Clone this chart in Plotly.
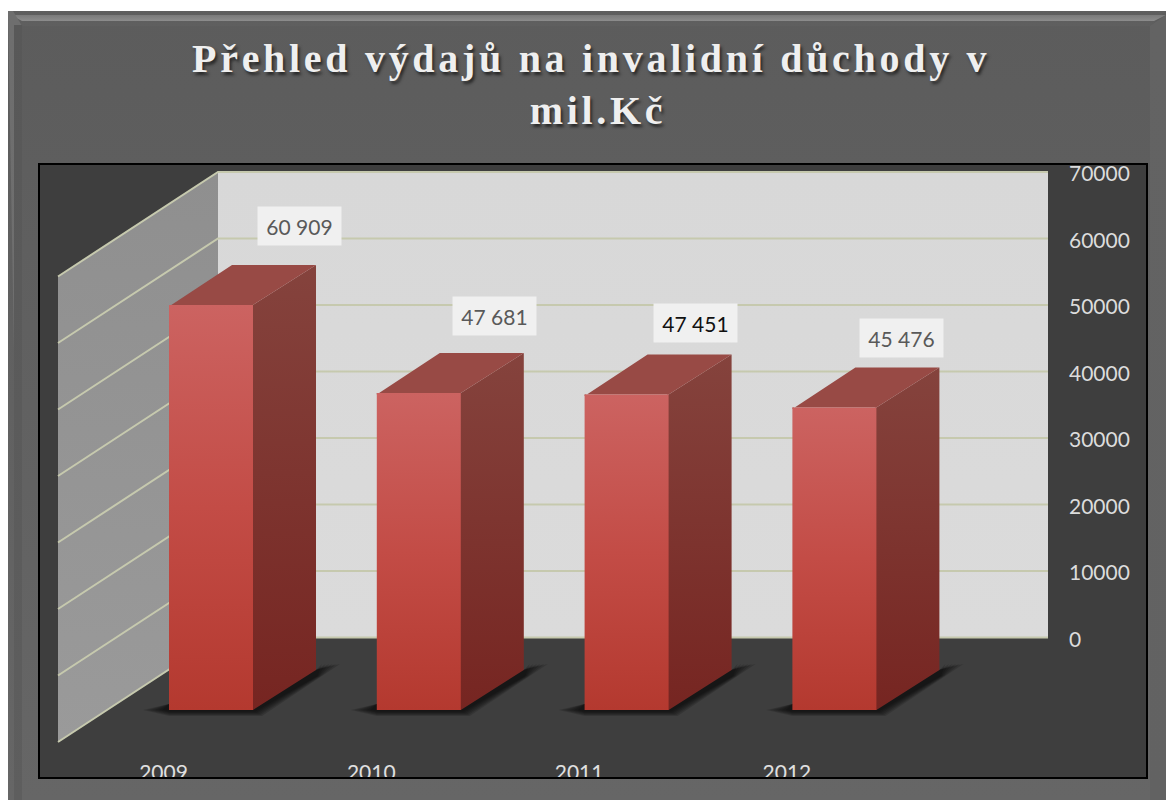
import plotly.graph_objects as go

# Chart data
years = ["2009", "2010", "2011", "2012"]
expenses = [60909, 47681, 47451, 45476]
axis_ticks = [0, 10000, 20000, 30000, 40000, 50000, 60000, 70000]
label_colors = ["#595959", "#595959", "#111111", "#595959"]
label_shift_px = [(88.5, 79), (75.5, 77), (68.5, 71.5), (67, 69.6)]

W, H = 1166, 800
PANEL = (39, 164, 1147, 778)      # left, top, right, bottom of the plot panel, in pixels
PX_PER_CAT = 207.8                # horizontal distance between two bars
CAT0_PX = 211.0                   # centre of the first bar
PX_PER_UNIT = 6.65 / 1000         # pixels per million CZK
ZERO_PX = 637.5                   # pixel row of value 0 on the back wall


def cat(px):
    """Horizontal pixel to category-axis position."""
    return (px - CAT0_PX) / PX_PER_CAT


def val(px):
    """Vertical pixel to value-axis position."""
    return (ZERO_PX - px) / PX_PER_UNIT


CAT_SPAN = 1 / PX_PER_CAT
VAL_SPAN = 1 / PX_PER_UNIT

BAR_HALF = 42 * CAT_SPAN
BAR_DX = 63 * CAT_SPAN
BAR_DY = 40 * VAL_SPAN
FLOOR = -72.5 * VAL_SPAN          # base of the bars' front faces
WALL_LEFT = cat(218)
WALL_RIGHT = cat(1048)
SIDE_DX = 160 * CAT_SPAN
SIDE_DY = 104.5 * VAL_SPAN
OVERLAP_X = 1.5 * CAT_SPAN        # faces tuck under each other to hide seams
OVERLAP_Y = 1.5 * VAL_SPAN

fig = go.Figure()


def grad(top, bottom, y0, y1, colors_mid=None):
    stops = [[0, top], [1, bottom]]
    if colors_mid:
        stops = [[0, top], [0.5, colors_mid], [1, bottom]]
    return dict(type="vertical", start=y0, stop=y1, colorscale=stops)


def frame_poly(xs, ys, top, bottom):
    """Filled polygon in pixel coordinates for the slide-like frame."""
    fig.add_trace(go.Scatter(
        x=xs + xs[:1], y=ys + ys[:1], mode="lines", line=dict(width=0),
        fill="toself", fillgradient=grad(top, bottom, min(ys), max(ys)),
        hoverinfo="skip", showlegend=False, xaxis="x", yaxis="y"))


def chart_poly(xs, ys, color=None, gradient=None, opacity=None):
    """Filled polygon on the category and value axes."""
    kw = dict(fillgradient=gradient) if gradient else dict(fillcolor=color)
    fig.add_trace(go.Scatter(
        x=xs + xs[:1], y=ys + ys[:1], mode="lines", line=dict(width=0),
        fill="toself", hoverinfo="skip", showlegend=False,
        xaxis="x2", yaxis="y2", opacity=opacity, **kw))


# Bevelled frame around the panel
L, T, R, B = 8, 11, W, H
frame_poly([L, R, R, L], [T, T, B, B], "#5c5c5c", "#666666")
frame_poly([L, R, R - 16, L + 15], [T, T, T + 15, T + 15], "#5e5e5e", "#5f5f5f")
frame_poly([L + 3, R, R - 12, L + 14], [T + 4, T + 4, T + 10, T + 10], "#7a7a7a", "#8c8c8c")
frame_poly([L, L + 5, L + 14, L + 14], [T, T, T + 15, B], "#6e6e6e", "#707070")
frame_poly([L + 6, L + 14, L + 14, L + 6], [T + 14, T + 14, B, B], "#585858", "#5e5e5e")
frame_poly([R - 16, R, R, R - 16], [T + 15, T + 4, B, B], "#636363", "#626262")
frame_poly([PANEL[0], PANEL[2], PANEL[2], PANEL[0]],
           [PANEL[1], PANEL[1], PANEL[3], PANEL[3]], "#3e3e3e", "#3e3e3e")

# Walls of the chart box
chart_poly([WALL_LEFT, WALL_RIGHT, WALL_RIGHT, WALL_LEFT],
           [0, 0, axis_ticks[-1], axis_ticks[-1]],
           gradient=grad("#d8d8d8", "#dbdbdb", axis_ticks[-1], 0))
chart_poly([WALL_LEFT, WALL_LEFT, WALL_LEFT - SIDE_DX, WALL_LEFT - SIDE_DX],
           [axis_ticks[-1], 0, -SIDE_DY, axis_ticks[-1] - SIDE_DY],
           gradient=grad("#8f8f8f", "#9a9a9a", axis_ticks[-1], -SIDE_DY))

# Gridlines running along the back wall and down the side wall
for tick in axis_ticks:
    fig.add_trace(go.Scatter(
        x=[WALL_LEFT - SIDE_DX, WALL_LEFT, WALL_RIGHT],
        y=[tick - SIDE_DY, tick, tick],
        mode="lines", line=dict(color="#c6c9ae", width=2),
        hoverinfo="skip", showlegend=False, xaxis="x2", yaxis="y2"))

# Soft floor shadows, built from stacked translucent layers
for i in range(len(years)):
    x0 = i - BAR_HALF
    for s in (1.0, 0.85, 0.7, 0.55, 0.4, 0.25):
        offsets = [(-26 * s, 0), (0, -6), (147, -40), (147 + 24 * s, -46),
                   (147 + 6 * s, -34), (84 + 9 * s, 6 * s), (0, 6 * s)]
        chart_poly([x0 + dx * CAT_SPAN for dx, _ in offsets],
                   [FLOOR - dy * VAL_SPAN for _, dy in offsets],
                   color="#000000", opacity=0.15)

# The bars: right side, top and front faces
for i, value in enumerate(expenses):
    xl, xr = i - BAR_HALF, i + BAR_HALF
    top = FLOOR + value
    chart_poly([xr - OVERLAP_X, xr, xr + BAR_DX, xr + BAR_DX, xr, xr - OVERLAP_X],
               [top, top, top + BAR_DY, FLOOR + BAR_DY, FLOOR, FLOOR],
               gradient=grad("#85433d", "#762521", top + BAR_DY, FLOOR))
    chart_poly([xl, xl, xr, xr + BAR_DX, xl + BAR_DX],
               [top - OVERLAP_Y, top, top, top + BAR_DY, top + BAR_DY],
               color="#984a45")
    chart_poly([xl, xr, xr, xl],
               [top, top, FLOOR, FLOOR],
               gradient=grad("#cc6361", "#b4392f", top, FLOOR, "#c34c46"))

# Year labels, cut off by the lower panel edge like the original axis
fig.add_trace(go.Scatter(
    x=[i - 47.5 * CAT_SPAN for i in range(len(years))],
    y=[val(774.5)] * len(years),
    text=years, mode="text", textposition="middle center",
    textfont=dict(family="Lato", size=21, color="#e0e0e0"),
    cliponaxis=True, hoverinfo="skip", showlegend=False,
    xaxis="x2", yaxis="y2"))

# Value labels above the bars
annotations = []
for i, value in enumerate(expenses):
    sx, sy = label_shift_px[i]
    annotations.append(dict(
        x=i + sx * CAT_SPAN, y=FLOOR + value + sy * VAL_SPAN,
        xref="x2", yref="y2", showarrow=False,
        text=f"{value:,}".replace(",", " "),
        font=dict(family="Lato", size=21, color=label_colors[i]),
        bgcolor="#f0f0f0", width=83, height=38,
        align="center", valign="middle", borderpad=0))

fig.update_layout(
    width=W, height=H,
    margin=dict(l=0, r=0, t=0, b=0, autoexpand=False),
    paper_bgcolor="#ffffff", plot_bgcolor="rgba(0,0,0,0)",
    showlegend=False,
    title=dict(
        text="Přehled výdajů na invalidní důchody v\u00a0<br>mil.Kč",
        x=598 / W, xanchor="center", xref="paper",
        y=1 - 72 / H, yanchor="top", yref="container",
        font=dict(family="Liberation Serif", size=40, weight="bold",
                  color="#efefef", shadow="2px 3px 3px #2a2a2a")),
    xaxis=dict(domain=[0, 1], range=[0, W], visible=False, fixedrange=True),
    yaxis=dict(domain=[0, 1], range=[H, 0], visible=False, fixedrange=True),
    xaxis2=dict(domain=[PANEL[0] / W, PANEL[2] / W], anchor="y2",
                range=[cat(PANEL[0]), cat(PANEL[2])],
                visible=False, fixedrange=True),
    yaxis2=dict(domain=[1 - PANEL[3] / H, 1 - PANEL[1] / H], anchor="free",
                position=1068 / W, side="right",
                range=[val(PANEL[3]), val(PANEL[1])],
                tickmode="array", tickvals=axis_ticks,
                ticktext=[str(t) for t in axis_ticks],
                ticks="", showgrid=False, zeroline=False, showline=False,
                ticklabelshift=2,
                tickfont=dict(family="Lato", size=21, color="#dcdcdc"),
                fixedrange=True),
    annotations=annotations,
    shapes=[dict(type="rect", xref="paper", yref="paper", layer="above",
                 x0=PANEL[0] / W, x1=PANEL[2] / W,
                 y0=1 - PANEL[3] / H, y1=1 - PANEL[1] / H,
                 line=dict(color="#000000", width=2),
                 fillcolor="rgba(0,0,0,0)")],
)

# Tracked title lettering; Plotly has no font attribute for it
spacing_js = """
var gd = document.getElementById('{plot_id}');
function track() {
  var t = gd.querySelector('.gtitle');
  if (t) { t.style.letterSpacing = '3.7px'; }
}
gd.on('plotly_afterplot', track);
track();
setTimeout(track, 100);
"""

fig.write_html("out.html", post_script=spacing_js, config=dict(displayModeBar=False))
